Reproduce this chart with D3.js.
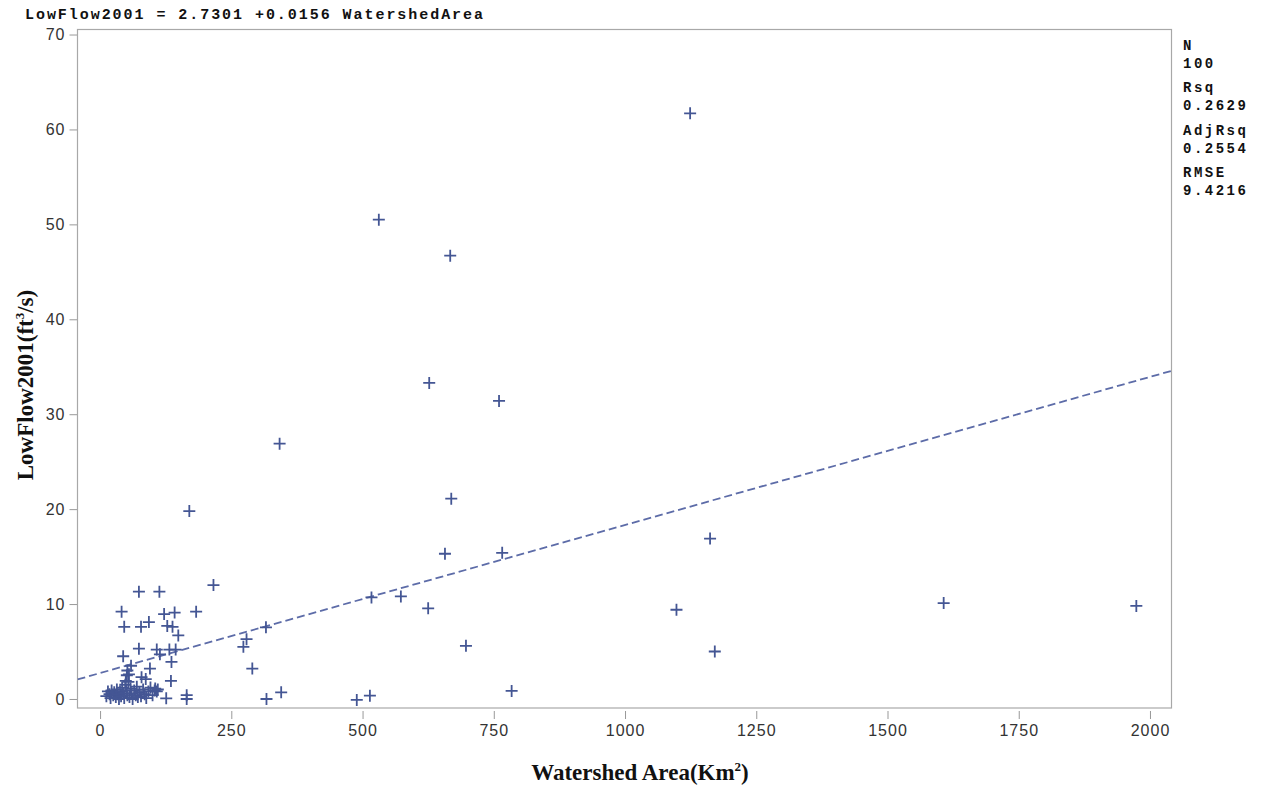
<!DOCTYPE html>
<html>
<head>
<meta charset="utf-8">
<script src="https://cdn.jsdelivr.net/npm/d3@7"></script>
<style>
  body { margin: 0; background: #fff; }
  svg { display: block; }
  .tick text { font-family: "Liberation Sans", Arial, sans-serif; font-size: 16px; fill: #333; letter-spacing: 1px; }
  .tick line { stroke: #999; }
  .mono { font-family: "Liberation Mono", "Courier New", monospace; font-weight: bold; fill: #111; }
  .axtitle { font-family: "Liberation Serif", "Times New Roman", serif; font-weight: bold; font-size: 23px; fill: #111; }
</style>
</head>
<body>
<div id="chart"></div>
<script>
// watershed area (km2) and low flow 2001 (ft3/s)
const area = [
  1124, 531, 667, 627, 760, 342, 669, 170,
  657, 766, 1162, 517, 573, 625, 1098, 1607, 1974, 316, 279, 273, 290, 697, 1171,
  317, 345, 489, 514, 784,
  216, 74, 113, 41, 122, 142, 183, 46, 78, 93, 128, 138, 149, 74, 44, 108, 114, 132, 144, 136, 95, 59, 51, 79, 87, 135, 105, 108, 126, 165, 165,
  12, 15, 18, 20, 22, 25, 27, 30, 32, 34, 36, 38, 40, 42, 44, 46, 48, 50, 52, 54, 55, 56, 58, 60, 62, 65, 68, 70, 72, 75, 78, 82, 85, 88, 92, 96, 100, 104, 110, 52, 49
];
const lowFlow = [
  61.7, 50.5, 46.7, 33.3, 31.4, 26.9, 21.1, 19.8,
  15.3, 15.4, 16.9, 10.7, 10.8, 9.55, 9.4, 10.1, 9.8, 7.55, 6.3, 5.5, 3.2, 5.6, 5.0,
  0.0, 0.7, -0.1, 0.35, 0.85,
  12.0, 11.3, 11.3, 9.2, 8.95, 9.1, 9.2, 7.6, 7.6, 8.1, 7.7, 7.6, 6.7, 5.3, 4.5, 5.2, 4.7, 5.2, 5.2, 3.9, 3.2, 3.5, 2.5, 2.3, 2.1, 1.9, 1.1, 0.8, 0.07, 0.4, 0.0,
  0.3, 0.8, 0.5, 0.1, 0.9, 0.4, 0.7, 0.2, 1.0, 0.5, 0.0, 0.8, 0.3, 1.2, 0.6, 0.1, 1.5, 0.9, 0.4, 1.8, 2.6, 0.2, 1.1, 0.6, 0.0, 0.9, 0.4, 1.3, 0.2, 0.7, 0.3, 1.0, 0.5, 0.1, 0.8, 1.2, 0.4, 0.9, 1.0, 3.0, 1.9
];
const xTicks = [0, 250, 500, 750, 1000, 1250, 1500, 1750, 2000];
const yTicks = [0, 10, 20, 30, 40, 50, 60, 70];
const fitCoef = [2.7301, 0.0156]; // intercept, slope
const statNames = ['N', 'Rsq', 'AdjRsq', 'RMSE'];
const statValues = ['100', '0.2629', '0.2554', '9.4216'];

const width = 1262, height = 786;
const frame = {left: 77.5, right: 1171.5, top: 29.5, bottom: 708};
const color = '#445694';

const svg = d3.select('#chart').append('svg')
  .attr('width', width)
  .attr('height', height);

const x = d3.scaleLinear().domain([-43, 2041]).range([frame.left, frame.right]);
const y = d3.scaleLinear().domain([-0.95, 70.53]).range([frame.bottom, frame.top]);

svg.append('clipPath').attr('id', 'clip')
  .append('rect')
  .attr('x', frame.left).attr('y', frame.top)
  .attr('width', frame.right - frame.left).attr('height', frame.bottom - frame.top);

// axes
svg.append('g')
  .attr('transform', 'translate(0,' + (frame.bottom + 3) + ')')
  .call(d3.axisBottom(x).tickValues(xTicks).tickFormat(d3.format('d'))
    .tickSize(8).tickSizeOuter(0).tickPadding(6))
  .call(g => g.select('.domain').remove());

svg.append('g')
  .attr('transform', 'translate(' + frame.left + ',0)')
  .call(d3.axisLeft(y).tickValues(yTicks).tickSize(8).tickSizeOuter(0).tickPadding(4))
  .call(g => g.select('.domain').remove());

// frame
svg.append('rect')
  .attr('x', frame.left).attr('y', frame.top)
  .attr('width', frame.right - frame.left).attr('height', frame.bottom - frame.top)
  .attr('fill', 'none')
  .attr('stroke', '#a8a8a8')
  .attr('stroke-width', 1.2);

// fitted line
const line = d3.line()
  .x(d => x(d))
  .y(d => y(fitCoef[0] + fitCoef[1] * d));

svg.append('path')
  .datum(x.domain())
  .attr('clip-path', 'url(#clip)')
  .attr('d', line)
  .attr('fill', 'none')
  .attr('stroke', '#5d6ca8')
  .attr('stroke-width', 1.8)
  .attr('stroke-dasharray', '8,4');

// points
const points = area.map((a, i) => ({a: a, q: lowFlow[i]}));
svg.append('g')
  .selectAll('path')
  .data(points)
  .enter()
  .append('path')
  .attr('transform', d => 'translate(' + x(d.a) + ',' + y(d.q) + ')')
  .attr('d', 'M-6,0H6M0,-6V6')
  .attr('stroke', color)
  .attr('stroke-width', 1.8)
  .attr('fill', 'none');

// equation
svg.append('text')
  .attr('class', 'mono')
  .attr('x', 25).attr('y', 19)
  .attr('font-size', 15)
  .attr('textLength', 458)
  .attr('lengthAdjust', 'spacing')
  .text('LowFlow2001 = 2.7301 +0.0156 WatershedArea');

// fit statistics
const stats = svg.append('g').attr('class', 'mono').attr('font-size', 14);
statNames.forEach(function (name, i) {
  stats.append('text')
    .attr('x', 1183).attr('y', 50 + i * 42.3)
    .attr('letter-spacing', 2.5)
    .text(name);
  stats.append('text')
    .attr('x', 1183).attr('y', 68 + i * 42.3)
    .attr('letter-spacing', 2.5)
    .text(statValues[i]);
});

// axis titles
const xt = svg.append('text')
  .attr('class', 'axtitle')
  .attr('x', 640).attr('y', 780)
  .attr('font-size', 24)
  .attr('text-anchor', 'middle');
xt.append('tspan').text('Watershed Area(Km');
xt.append('tspan').attr('font-size', 13).attr('dy', -9).text('2');
xt.append('tspan').attr('dy', 9).text(')');

const yt = svg.append('text')
  .attr('class', 'axtitle')
  .attr('transform', 'translate(33,385) rotate(-90)')
  .attr('text-anchor', 'middle');
yt.append('tspan').text('LowFlow2001(ft');
yt.append('tspan').attr('font-size', 13).attr('dy', -9).text('3');
yt.append('tspan').attr('dy', 9).text('/s)');
</script>
</body>
</html>
